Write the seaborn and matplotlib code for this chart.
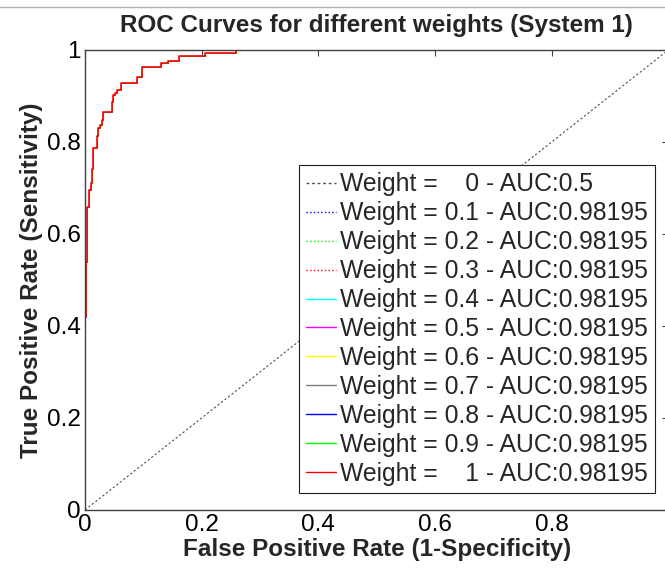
import numpy as np
import matplotlib
matplotlib.use("Agg")
import matplotlib.pyplot as plt
from matplotlib.lines import Line2D
import seaborn as sns

# ROC operating points (step vertices) shared by every weighted score
fpr = [0, 0, 0.001, 0.003, 0.004, 0.0068, 0.0097, 0.0114, 0.0143, 0.020,
       0.0228, 0.0257, 0.0285, 0.0314, 0.0468, 0.0485, 0.0513, 0.0553,
       0.061, 0.0884, 0.098, 0.130, 0.1415, 0.161, 0.205, 0.259, 1.0]
tpr = [0, 0.42, 0.54, 0.587, 0.659, 0.696, 0.71, 0.741, 0.786, 0.812,
       0.830, 0.837, 0.848, 0.866, 0.888, 0.902, 0.906, 0.913, 0.928,
       0.941, 0.964, 0.971, 0.977, 0.987, 0.993, 1.0, 1.0]

# chance line for weight 0
fpr_chance = [0, 1]
tpr_chance = [0, 1]

weights = ["   0", "0.1", "0.2", "0.3", "0.4", "0.5", "0.6", "0.7", "0.8", "0.9", "   1"]
aucs = ["0.5"] + ["0.98195"] * 10
colors = ["#202020", "#0000ff", "#00ff00", "#ff0000", "#00ffff", "#ff00ff",
          "#ffff00", "#808080", "#0000ff", "#00ff00", "#ff0000"]
styles = [":", ":", ":", ":", "-", "-", "-", "-", "-", "-", "-"]

sns.set_style("white")
plt.rcParams["font.family"] = ["Liberation Sans", "DejaVu Sans"]
FS = 17.5

fig = plt.figure(figsize=(6.65, 5.68), dpi=100)
ax = fig.add_axes([85 / 665, 1 - 510 / 568, (668.3 - 85) / 665, 460 / 568])

last = len(weights) - 1
for i, (w, a, c, ls) in enumerate(zip(weights, aucs, colors, styles)):
    label = f"Weight = {w} - AUC:{a}"
    if i == 0:
        line = sns.lineplot(x=fpr_chance, y=tpr_chance, ax=ax, estimator=None,
                            sort=False, color=c, linewidth=0.8,
                            label=label).lines[-1]
        line.set_dashes((2, 2))
        line.set_color("#505050")
    else:
        lw = 1.2 if i == last else 0.5
        sns.lineplot(x=fpr, y=tpr, ax=ax, estimator=None, sort=False,
                     color=c, linestyle=ls, linewidth=lw,
                     drawstyle="steps-post", label=label)

ax.set_xlim(0, 1)
ax.set_ylim(0, 1)
ax.set_xticks([0, 0.2, 0.4, 0.6, 0.8])
ax.set_xticklabels(["0", "0.2", "0.4", "0.6", "0.8"])
ax.set_yticks([0, 0.2, 0.4, 0.6, 0.8, 1.0])
ax.set_yticklabels(["0", "0.2", "0.4", "0.6", "0.8", "1"])
ax.tick_params(direction="in", top=True, right=True, length=4, width=0.8,
               pad=3, labelsize=FS, colors="#404040", labelcolor="black")
for side, sp in ax.spines.items():
    sp.set_visible(True)
    sp.set_color("#404040")
    sp.set_linewidth(1.0)

ax.set_title("ROC Curves for different weights (System 1)",
             fontsize=FS, fontweight="bold", pad=13)
ax.set_xlabel("False Positive Rate (1-Specificity)", fontsize=FS,
              fontweight="bold", labelpad=1)
ax.set_ylabel("True Positive Rate (Sensitivity)", fontsize=FS,
              fontweight="bold", labelpad=3)

leg = ax.legend(loc="upper right", bbox_to_anchor=(655 / 665, 1 - 165 / 568),
                bbox_transform=fig.transFigure, borderaxespad=0,
                fontsize=17.8, frameon=True, fancybox=False, framealpha=1,
                edgecolor="#202020", borderpad=0.3, labelspacing=0.2,
                handlelength=1.2, handletextpad=0.16)
leg.get_frame().set_linewidth(0.8)
for h in leg.get_lines():
    h.set_linewidth(1.0)

# thin rule along the top of the figure
fig.add_artist(Line2D([0, 1], [1 - 7.3 / 568, 1 - 7.3 / 568],
                      transform=fig.transFigure, color="#b0b0b0", linewidth=1.0))

fig.savefig("out.png", dpi=100)
